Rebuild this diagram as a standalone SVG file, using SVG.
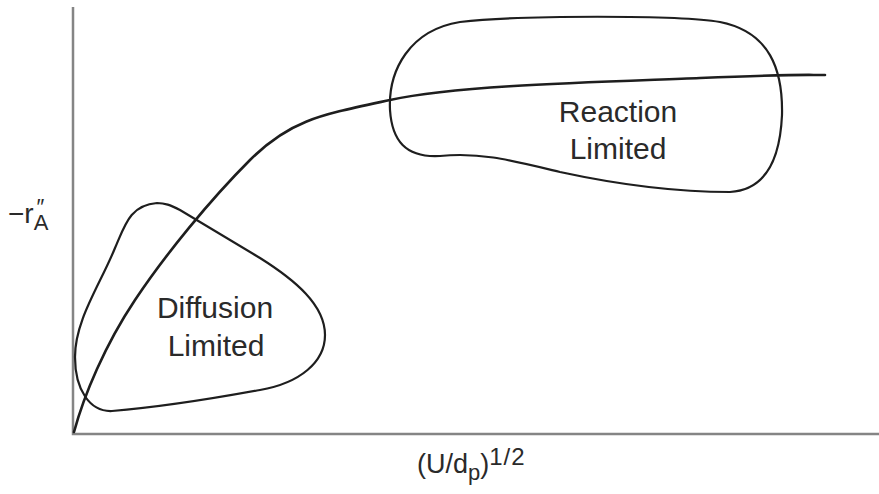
<svg xmlns="http://www.w3.org/2000/svg" width="879" height="494" viewBox="0 0 879 494">
<style>
.axis{stroke:#858585;stroke-width:2.5;fill:none}
.curve{stroke:#1e1e1e;stroke-width:2.6;fill:none;stroke-linecap:round}
.loop{stroke:#1e1e1e;stroke-width:2.2;fill:none}
text{font-family:"Liberation Sans",Arial,sans-serif;fill:#2a2a2a}
.lbl{font-size:30px;text-anchor:middle}
</style>
<rect width="879" height="494" fill="#fff"/>
<g id="axes">
<path class="axis" d="M73,7 V434 H879"/>
</g>
<g id="connectors">
<path id="rate-curve" class="curve" d="M74,432 C84,395 105,345 135,300 S210,200 250,160 S320,115 390,100 S600,82 700,78 S800,75 825,75"/>
</g>
<g id="diffusion-limited">
<path class="loop" d="M157,203 C130,205 125,225 115,248 C100,285 75,320 75,357 C75,390 90,412 112,411 C150,408 200,401 260,390 C300,383 325,362 325,335 C325,305 295,280 260,258 C230,240 200,222 180,210 C170,205 165,203 157,203 Z"/>
<text class="lbl" x="215" y="318">Diffusion</text>
<text class="lbl" x="216" y="356">Limited</text>
</g>
<g id="reaction-limited">
<path class="loop" d="M390,110 C388,70 410,30 460,22 C520,15 680,15 720,22 C770,32 783,70 782,115 C780,160 765,190 730,192 C680,192 620,185 560,172 C510,160 480,152 440,156 C405,158 392,140 390,110 Z"/>
<text class="lbl" x="618" y="122">Reaction</text>
<text class="lbl" x="618" y="159">Limited</text>
</g>
<g id="y-label">
<text x="8" y="223" font-size="28">−r<tspan font-size="22" dy="7">A</tspan><tspan font-size="22" dx="-12" dy="-16">″</tspan></text>
</g>
<g id="x-label">
<text x="417" y="473" font-size="27">(U/d<tspan font-size="22" dy="7">p</tspan><tspan dy="-7">)</tspan><tspan font-size="24" dy="-8" letter-spacing="1">1/2</tspan></text>
</g>
</svg>
